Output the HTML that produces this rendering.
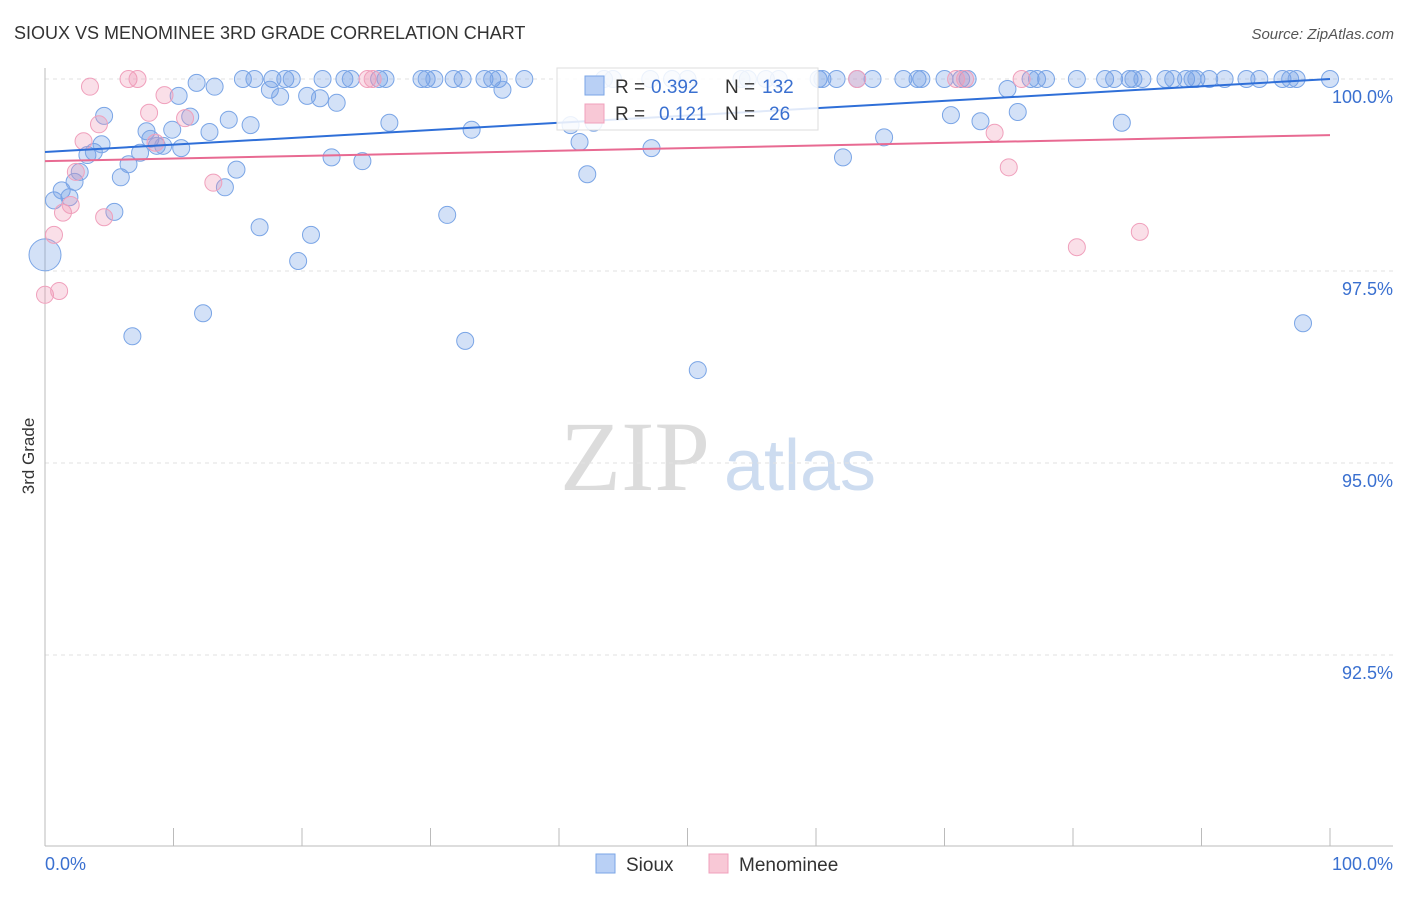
<!DOCTYPE html>
<html><head><meta charset="utf-8">
<style>
body{margin:0;background:#fff;font-family:"Liberation Sans",sans-serif;}
svg text{font-family:"Liberation Sans",sans-serif;}
</style></head>
<body>
<svg id="chart" width="1406" height="892" xmlns="http://www.w3.org/2000/svg">
<text x="14" y="39" font-size="18" fill="#333">SIOUX VS MENOMINEE 3RD GRADE CORRELATION CHART</text>
<text x="1394" y="39" font-size="15" fill="#555" font-style="italic" text-anchor="end">Source: ZipAtlas.com</text>
<g>
<text x="635" y="490" font-size="100" fill="#dcdcdc" style="font-family:'Liberation Serif',serif" text-anchor="middle">ZIP</text>
<text x="800" y="490" font-size="72" fill="#cddcf0" text-anchor="middle">atlas</text>
</g>
<g id="grid"></g>
<g id="axes"></g>
<g id="pts"></g>
<g id="trend"></g>
<text transform="translate(34,456) rotate(-90)" font-size="17" fill="#333" text-anchor="middle">3rd Grade</text>
<g>
<rect x="557" y="68" width="261" height="62" fill="#fff" fill-opacity="0.85" stroke="#ddd"/>
<rect x="585" y="76" width="19" height="19" fill="#b9d0f5" stroke="#7aa5e6"/>
<text x="615" y="93" font-size="19" fill="#333">R =</text>
<text x="651" y="93" font-size="19" fill="#3a70d0">0.392</text>
<text x="725" y="93" font-size="19" fill="#333">N =</text>
<text x="762" y="93" font-size="19" fill="#3a70d0">132</text>
<rect x="585" y="104" width="19" height="19" fill="#f8c8d6" stroke="#f0a0bc"/>
<text x="615" y="120" font-size="19" fill="#333">R =</text>
<text x="659" y="120" font-size="19" fill="#3a70d0">0.121</text>
<text x="725" y="120" font-size="19" fill="#333">N =</text>
<text x="769" y="120" font-size="19" fill="#3a70d0">26</text>
</g>
<g>
<rect x="596" y="854" width="19" height="19" fill="#b9d0f5" stroke="#7aa5e6"/>
<text x="626" y="871" font-size="19" fill="#333">Sioux</text>
<rect x="709" y="854" width="19" height="19" fill="#f8c8d6" stroke="#f0a0bc"/>
<text x="739" y="871" font-size="19" fill="#333">Menominee</text>
</g>
</svg>
<script>
const yTicks=[100,97.5,95,92.5];
const yTickLabels=["100.0%","97.5%","95.0%","92.5%"];
const xEndLabels=["0.0%","100.0%"];
const siouxX=[15.4,16.3,17.7,18.7,19.2,21.6,23.3,23.8,26.0,26.5,29.3,29.7,30.3,31.8,32.5,34.2,34.8,35.3,37.3,43.5,44.2,47.1,48.8,50.0,54.2,54.7,56.1,57.1,60.2,60.5,61.6,63.2,64.4,66.8,67.9,68.2,70.0,71.3,71.8,76.7,77.2,77.9,80.3,82.5,83.2,84.4,84.7,85.4,87.2,87.8,88.8,89.3,89.6,90.6,91.8,93.5,94.5,96.3,96.9,97.4,100,
0.7,1.3,1.9,2.3,2.7,3.3,3.8,4.4,4.6,5.4,5.9,6.5,6.8,7.4,7.9,8.2,8.7,9.2,9.9,10.4,10.6,11.3,11.8,12.3,12.8,13.2,14.0,14.3,14.9,16.0,16.7,17.5,18.3,19.7,20.4,20.7,21.4,22.3,22.7,24.7,26.8,31.3,32.7,33.2,35.6,40.9,41.6,42.2,42.7,47.2,50.8,62.1,65.3,70.5,72.8,74.9,75.7,83.8,97.9];
const siouxY=[100,100,100,100,100,100,100,100,100,100,100,100,100,100,100,100,100,100,100,100,100,100,100,100,100,100,100,100,100,100,100,100,100,100,100,100,100,100,100,100,100,100,100,100,100,100,100,100,100,100,100,100,100,100,100,100,100,100,100,100,100,
98.42,98.55,98.46,98.66,98.79,99.01,99.05,99.15,99.52,98.27,98.72,98.89,96.65,99.04,99.32,99.22,99.13,99.13,99.34,99.78,99.10,99.51,99.95,96.95,99.31,99.90,98.59,99.47,98.82,99.40,98.07,99.86,99.77,97.63,99.78,97.97,99.75,98.98,99.69,98.93,99.43,98.23,96.59,99.34,99.86,99.40,99.18,98.76,99.43,99.10,96.21,98.98,99.24,99.53,99.45,99.87,99.57,99.43,96.82];
const menX=[0,0.7,1.1,1.4,2.0,2.4,3.0,3.5,4.2,4.6,6.5,7.2,8.1,8.6,9.3,10.9,13.1,25.1,25.5,63.2,70.9,71.6,73.9,75.0,76.0,80.3,85.2];
const menY=[97.19,97.97,97.24,98.26,98.36,98.79,99.19,99.90,99.41,98.20,100,100,99.56,99.17,99.79,99.49,98.65,100,100,100,100,100,99.30,98.85,100,97.81,98.01];
const siouxTrend=[99.05,100.0];
const menTrend=[98.93,99.27];
const bigX=[0], bigY=[97.71];

const X=v=>45+v*12.85;
const Y=v=>79+(100-v)*76.8;
const NS="http://www.w3.org/2000/svg";
function mk(t,a,p){const e=document.createElementNS(NS,t);for(const k in a)e.setAttribute(k,a[k]);p.appendChild(e);return e;}
const grid=document.getElementById('grid'),axes=document.getElementById('axes'),pts=document.getElementById('pts'),trend=document.getElementById('trend');
yTicks.forEach((t,i)=>{
 const l=mk('line',{x1:45,x2:1393,y1:Y(t),y2:Y(t),stroke:'#e2e2e2','stroke-dasharray':'4,4'},grid);
 
 
 const tx=mk('text',{x:1393,y:Y(t)+24,'font-size':18,fill:'#3a70d0','text-anchor':'end'},grid);
 tx.textContent=yTickLabels[i];
 
 
});
const ya=mk('line',{x1:45,x2:45,y1:68,y2:846,stroke:'#bbb'},axes);


const xa=mk('line',{x1:45,x2:1393,y1:846,y2:846,stroke:'#bbb'},axes);


for(let i=0;i<=10;i++){
 const t=mk('line',{x1:X(i*10),x2:X(i*10),y1:828,y2:846,stroke:'#bbb'},axes);
 
 
}
const xl0=mk('text',{x:45,y:870,'font-size':18,fill:'#3a70d0'},axes);xl0.textContent=xEndLabels[0];


const xl1=mk('text',{x:1393,y:870,'font-size':18,fill:'#3a70d0','text-anchor':'end'},axes);xl1.textContent=xEndLabels[1];


function dots(xs,ys,r,fill,stroke,name){
 xs.forEach((x,i)=>{
  const c=mk('circle',{cx:X(x),cy:Y(ys[i]),r:r,fill:fill,stroke:stroke,'stroke-width':1},pts);
  
  
 });
}
dots(bigX,bigY,16,'rgba(110,155,230,0.3)','#7aa5e6','sioux-point');
dots(siouxX,siouxY,8.5,'rgba(110,155,230,0.3)','#7aa5e6','sioux-point');
dots(menX,menY,8.5,'rgba(240,150,180,0.3)','#f0a0bc','menominee-point');
const t1=mk('line',{x1:X(0),x2:X(100),y1:Y(siouxTrend[0]),y2:Y(siouxTrend[1]),stroke:'#2f6fd8','stroke-width':2},trend);


const t2=mk('line',{x1:X(0),x2:X(100),y1:Y(menTrend[0]),y2:Y(menTrend[1]),stroke:'#e86a92','stroke-width':2},trend);


</script>
</body></html>
